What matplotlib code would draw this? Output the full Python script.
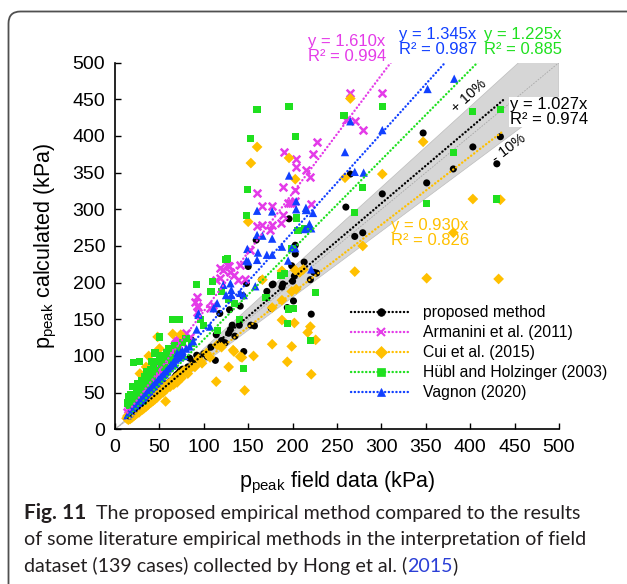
import numpy as np
import matplotlib
matplotlib.use('Agg')
import matplotlib.pyplot as plt
from matplotlib.lines import Line2D
from matplotlib.patches import Polygon, FancyBboxPatch

plt.rcParams['font.family'] = ['Liberation Sans', 'DejaVu Sans']

# (p_field, p_calculated) in kPa
proposed = np.array([
    (15,14),(16,17),(17,15),(18,19),(19,18),(20,21),(21,19),(22,23),(23,22),(24,26),(25,24),(26,25),
    (27,29),(28,27),(29,30),(30,28),(31,33),(32,31),(33,32),(34,36),(35,34),(36,39),(37,35),(38,38),
    (39,42),(40,39),(41,40),(42,45),(43,43),(44,41),(45,47),(46,45),(47,50),(48,47),(50,52),(51,49),
    (52,55),(53,51),(54,54),(55,57),(56,58),(57,55),(58,62),(60,59),(61,64),(62,61),(63,66),(64,63),
    (66,69),(67,66),(68,72),(69,74),(70,69),(71,76),(72,73),(73,79),(74,80),(75,77),(76,82),(78,80),
    (80,81),(82,85),(84,97),(86,122),(88,92),(92,101),(95,96),(100,103),(104,99),(108,112),(113,94),
    (114,129),(118,158),(120,121),(124,118),(128,131),(129,163),(130,136),(132,142),(135,127),(140,142),
    (141,168),(144,182),(145,106),(148,199),(150,222),(153,142),(157,141),(159,258),(165,204),(171,188),
    (176,165),(177,197),(178,198),(188,194),(189,198),(194,166),(196,287),(199,223),(200,202),(201,175),
    (202,209),(203,239),(203,251),(213,228),(220,204),(221,157),(224,214),(227,213),(260,303),(265,348),
    (270,263),(279,268),(301,321),(347,404),(351,336),(381,355),(403,385),(430,362),(434,399)])

armanini = np.array([
    (14,24),(15,27),(16,28),(17,26),(18,31),(19,30),(20,34),(21,33),(22,37),(23,36),(24,41),(25,39),
    (26,44),(27,42),(28,47),(29,45),(30,51),(31,49),(32,54),(33,52),(34,57),(35,55),(36,61),(37,59),
    (38,64),(39,62),(40,68),(41,66),(42,71),(43,85),(44,73),(45,77),(46,75),(47,80),(48,82),(49,78),
    (50,85),(52,99),(53,88),(54,92),(55,90),(56,95),(57,97),(58,99),(59,94),(60,102),(61,105),(62,106),
    (63,100),(64,110),(65,108),(66,113),(67,110),(68,116),(69,118),(70,120),(71,115),(72,122),(73,124),
    (74,119),(75,126),(77,117),(80,131),(84,126),(90,174),(92,160),(92,168),(92,180),(94,167),(107,165),
    (110,170),(114,204),(118,206),(118,220),(122,217),(126,224),(128,222),(130,215),(134,210),(139,204),
    (141,224),(146,205),(152,245),(160,322),(160,277),(165,279),(165,304),(175,272),(177,279),(177,305),
    (187,281),(189,292),(189,330),(190,378),(195,309),(197,308),(199,309),(203,326),(203,311),(204,369),
    (204,358),(215,353),(220,344),(221,307),(223,375),(227,392),(260,422),(265,459),(270,421),(279,408),
    (301,459)])

cui = np.array([
    (13,15),(14,18),(15,13),(16,17),(17,14),(18,20),(19,16),(20,22),(21,18),(22,24),(23,20),(24,26),
    (25,22),(25,60),(26,28),(27,23),(28,76),(29,26),(30,32),(31,27),(32,34),(33,29),(34,37),(35,31),
    (35,85),(36,38),(37,33),(38,100),(39,36),(40,42),(41,37),(42,44),(43,39),(44,47),(45,41),(46,48),
    (47,43),(48,126),(49,46),(50,110),(51,48),(52,54),(54,50),(55,58),(57,38),(58,55),(60,62),(62,58),
    (64,66),(65,130),(66,61),(68,70),(70,64),(72,74),(74,129),(75,70),(78,80),(82,76),(86,85),(90,85),
    (94,96),(98,90),(103,104),(107,98),(114,65),(115,115),(120,112),(128,85),(133,108),(134,106),
    (141,99),(143,98),(146,53),(150,283),(153,363),(156,100),(160,385),(166,204),(177,116),(177,166),
    (188,149),(188,176),(188,216),(194,92),(196,370),(199,113),(199,188),(202,145),(203,217),(203,341),
    (204,191),(208,214),(212,218),(217,132),(220,140),(221,75),(226,122),(259,343),(265,451),(270,215),
    (279,250),(301,348),(347,392),(351,206),(381,268),(403,314),(432,205),(434,313)])

hubl = np.array([
    (14,36),(15,44),(16,33),(17,40),(18,47),(19,38),(20,58),(21,91),(22,42),(23,41),(24,52),(25,48),
    (26,62),(27,55),(28,92),(29,50),(30,66),(31,60),(32,38),(33,72),(34,64),(35,58),(36,78),(37,68),
    (38,74),(39,62),(40,82),(41,92),(42,72),(43,86),(45,104),(46,80),(48,92),(50,100),(50,126),(52,88),
    (54,96),(56,84),(58,105),(60,110),(62,98),(64,94),(65,150),(67,114),(70,108),(73,150),(76,118),
    (80,124),(86,117),(92,197),(96,150),(100,142),(108,188),(110,201),(115,135),(120,188),(125,232),
    (127,233),(128,177),(135,172),(140,150),(145,83),(148,292),(149,327),(153,397),(160,436),(170,180),
    (187,210),(191,212),(194,144),(195,164),(199,247),(201,165),(203,399),(196,440),(204,288),(206,271),
    (214,274),(220,121),(226,186),(258,428),(270,296),(279,330),(301,440),(351,308),(381,377),(403,433),
    (430,314),(434,436)])

vagnon = np.array([
    (14,19),(15,21),(16,22),(17,23),(18,25),(19,26),(20,27),(21,29),(22,30),(23,31),(24,33),(25,34),
    (26,36),(27,37),(28,38),(29,40),(30,41),(31,42),(32,44),(33,45),(34,47),(35,48),(36,50),(37,51),
    (38,53),(39,52),(40,55),(41,56),(42,58),(43,60),(44,59),(45,62),(46,64),(47,63),(48,66),(49,68),
    (50,67),(51,70),(52,72),(53,71),(54,74),(55,76),(56,75),(57,78),(58,80),(59,79),(60,83),(62,85),
    (63,88),(64,87),(65,90),(66,92),(67,89),(68,95),(69,97),(70,104),(71,99),(72,101),(73,98),(74,105),
    (75,103),(76,107),(78,100),(80,110),(84,113),(88,120),(92,136),(94,156),(94,158),(107,140),(111,165),
    (115,172),(122,197),(125,183),(130,199),(131,183),(131,190),(141,186),(145,183),(148,230),(149,246),
    (150,229),(158,195),(160,231),(160,265),(160,298),(161,241),(166,264),(171,238),(177,260),(177,238),
    (177,297),(188,249),(195,230),(196,346),(199,247),(203,247),(204,300),(204,311),(214,273),(215,299),
    (215,302),(219,280),(221,274),(221,218),(223,295),(259,378),(265,420),(270,351),(280,350),(301,408),
    (352,464),(382,478)])

labels = ['proposed method', 'Armanini et al. (2011)', 'Cui et al. (2015)',
          'Hübl and Holzinger (2003)', 'Vagnon (2020)']
slopes = [1.027, 1.610, 0.930, 1.225, 1.345]
r2 = [0.974, 0.994, 0.826, 0.885, 0.987]

W, H = 627, 584
def fx(px):
    return px / W
def fy(py):
    return 1 - py / H

fig = plt.figure(figsize=(W / 100, H / 100), dpi=100)
fig.patch.set_facecolor('white')

# rounded frame of the journal figure
frame = FancyBboxPatch((18.5, -40), 640, 602.5, boxstyle='round,pad=10,rounding_size=12',
                       transform=None, fc='none', ec='#505050', lw=1.3)
fig.patches.append(frame)

ax = fig.add_axes([fx(115), fy(429.3), 444 / W, 366.7 / H])

# +/-10% band and 1:1 line
band = Polygon([(0, 0), (500 / 1.1, 500), (500, 500), (500, 0.9 * 500)], closed=True,
               fc='#d6d6d6', ec='#bdbdbd', lw=0.5, zorder=0.5)
ax.add_patch(band)
ax.plot([0, 500], [0, 500], color='#a8a8a8', lw=0.6, ls=(0, (2, 1.5)), zorder=0.6)

styles = [
    dict(marker='o', color='#000000', s=26),
    dict(marker='x', color='#e43be8', s=30),
    dict(marker='D', color='#ffc000', s=30),
    dict(marker='s', color='#1fe01f', s=27),
    dict(marker='^', color='#1140ff', s=36),
]
datasets = [proposed, armanini, cui, hubl, vagnon]
dot = (0, (0.1, 1.5))

handles = []
for data, st, k in zip(datasets, styles, slopes):
    if st['marker'] == 'x':
        ax.scatter(data[:, 0], data[:, 1], marker='x', s=st['s'], c=st['color'],
                   linewidths=1.8, zorder=3)
    else:
        ax.scatter(data[:, 0], data[:, 1], marker=st['marker'], s=st['s'], c=st['color'],
                   edgecolors='none', zorder=3)
    xs = np.array([data[:, 0].min(), 437])
    ax.plot(xs, k * xs, color=st['color'], lw=1.7, ls=dot, dash_capstyle='round', zorder=4)
    ms = 6 if st['marker'] != 'o' else 5.5
    handles.append(Line2D([], [], color=st['color'], lw=1.7, ls=dot, dash_capstyle='round',
                          marker=st['marker'], ms=ms, mfc=st['color'], mec=st['color'],
                          mew=1.5 if st['marker'] == 'x' else 0.5))

ax.legend(handles, labels, loc='upper left', bbox_to_anchor=(fx(351), fy(305)),
          bbox_transform=fig.transFigure, frameon=False, fontsize=11.3, handlelength=3.8,
          handletextpad=0.8, labelspacing=0.32, borderpad=0, borderaxespad=0, numpoints=1)

# regression equations
eq_pos = [(549, 112), (347, 49), (430, 233), (523, 42), (438, 42)]
for (cx, cy), k, r, st in zip(eq_pos, slopes, r2, styles):
    kw = {}
    if k == 1.027:
        kw['bbox'] = dict(fc='white', ec='none', pad=0.5)
    fig.text(fx(cx), fy(cy), 'y = %.3fx\nR² = %.3f' % (k, r), color=st['color'],
             fontsize=12, ha='center', va='center', linespacing=0.92, **kw)

fig.text(fx(469), fy(96), '+ 10%', rotation=42, fontsize=10.5, ha='center', va='center',
         rotation_mode='anchor')
fig.text(fx(509), fy(148), '- 10%', rotation=37, fontsize=10.5, ha='center', va='center',
         rotation_mode='anchor')

ax.set_xlim(0, 500)
ax.set_ylim(0, 500)
ax.set_xticks(np.arange(0, 501, 50))
ax.set_yticks(np.arange(0, 501, 50))
for s in ['top', 'right']:
    ax.spines[s].set_visible(False)
for s in ['left', 'bottom']:
    ax.spines[s].set_linewidth(1.2)
ax.tick_params(direction='in', length=4, width=1, labelsize=14, pad=7)
ax.set_xlabel(r'$\mathregular{p_{peak}}$ field data (kPa)', fontsize=15.5, labelpad=10)
ax.set_ylabel(r'$\mathregular{p_{peak}}$ calculated (kPa)', fontsize=15.5, labelpad=10)

# caption
cap_font = ['Lato', 'DejaVu Sans']
cap_col = '#231f20'
cs = 14.1
fig.text(fx(24), fy(519), 'Fig. 11', family=cap_font, fontweight='bold', fontsize=15,
         color=cap_col, va='baseline')
fig.text(fx(96), fy(519), 'The proposed empirical method compared to the results',
         family=cap_font, fontsize=cs, color=cap_col, va='baseline')
fig.text(fx(24), fy(545.5), 'of some literature empirical methods in the interpretation of field',
         family=cap_font, fontsize=cs, color=cap_col, va='baseline')
t3 = fig.text(fx(24), fy(572), 'dataset (139 cases) collected by Hong et al. (',
              family=cap_font, fontsize=cs, color=cap_col, va='baseline')
r = fig.canvas.get_renderer()
bb = t3.get_window_extent(r)
t4 = fig.text(bb.x1 / W, fy(572), '2015', family=cap_font, fontsize=cs, color='#2b3fd6',
              va='baseline')
bb = t4.get_window_extent(r)
fig.text(bb.x1 / W, fy(572), ')', family=cap_font, fontsize=cs, color=cap_col, va='baseline')

fig.savefig('out.png', dpi=100)
